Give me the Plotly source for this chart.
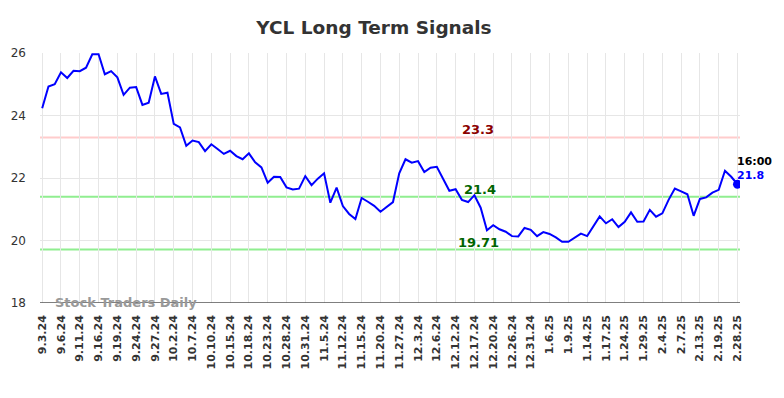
import plotly.graph_objects as go

dates = [
    "9.3.24", "9.4.24", "9.5.24", "9.6.24", "9.9.24", "9.10.24", "9.11.24", "9.12.24", "9.13.24",
    "9.16.24", "9.17.24", "9.18.24", "9.19.24", "9.20.24", "9.23.24", "9.24.24", "9.25.24", "9.26.24",
    "9.27.24", "9.30.24", "10.1.24", "10.2.24", "10.3.24", "10.4.24", "10.7.24", "10.8.24", "10.9.24",
    "10.10.24", "10.11.24", "10.14.24", "10.15.24", "10.16.24", "10.17.24", "10.18.24", "10.21.24", "10.22.24",
    "10.23.24", "10.24.24", "10.25.24", "10.28.24", "10.29.24", "10.30.24", "10.31.24", "11.1.24", "11.4.24",
    "11.5.24", "11.7.24", "11.11.24", "11.12.24", "11.13.24", "11.14.24", "11.15.24", "11.18.24", "11.19.24",
    "11.20.24", "11.21.24", "11.25.24", "11.27.24", "11.29.24", "12.2.24", "12.3.24", "12.4.24", "12.5.24",
    "12.6.24", "12.9.24", "12.11.24", "12.12.24", "12.13.24", "12.16.24", "12.17.24", "12.18.24", "12.19.24",
    "12.20.24", "12.23.24", "12.24.24", "12.26.24", "12.27.24", "12.30.24", "12.31.24", "1.2.25", "1.3.25",
    "1.6.25", "1.7.25", "1.8.25", "1.9.25", "1.10.25", "1.13.25", "1.14.25", "1.15.25", "1.16.25",
    "1.17.25", "1.21.25", "1.23.25", "1.24.25", "1.27.25", "1.28.25", "1.29.25", "1.30.25", "1.31.25",
    "2.4.25", "2.5.25", "2.6.25", "2.7.25", "2.10.25", "2.12.25", "2.13.25", "2.14.25", "2.18.25",
    "2.19.25", "2.21.25", "2.25.25", "2.28.25",
]

prices = [
    24.23, 24.93, 25.00, 25.38, 25.20, 25.43, 25.42, 25.53, 25.96,
    25.96, 25.32, 25.42, 25.22, 24.66, 24.89, 24.91, 24.34, 24.41,
    25.25, 24.69, 24.73, 23.73, 23.62, 23.03, 23.20, 23.15, 22.86,
    23.08, 22.93, 22.77, 22.87, 22.70, 22.60, 22.79, 22.50, 22.34,
    21.85, 22.04, 22.03, 21.70, 21.63, 21.66, 22.06, 21.77, 21.98,
    22.15, 21.21, 21.69, 21.10, 20.85, 20.69, 21.36, 21.24, 21.11,
    20.92, 21.09, 21.23, 22.15, 22.60, 22.49, 22.54, 22.19, 22.33,
    22.36, 21.99, 21.59, 21.64, 21.30, 21.23, 21.45, 21.05, 20.33,
    20.49, 20.36, 20.28, 20.14, 20.13, 20.40, 20.34, 20.14, 20.27,
    20.21, 20.10, 19.96, 19.96, 20.10, 20.22, 20.14, 20.46, 20.77,
    20.55, 20.68, 20.43, 20.60, 20.90, 20.60, 20.61, 20.98, 20.76,
    20.87, 21.30, 21.66, 21.57, 21.48, 20.79, 21.33, 21.38, 21.53,
    21.62, 22.23, 22.04, 21.80,
]

tick_labels = dates[::3]
y_ticks = [18, 20, 22, 24, 26]

resistance = 23.3
support_high = 21.4
support_low = 19.71
last_time = "16:00"

font_family = "DejaVu Sans"

fig = go.Figure()

fig.add_trace(go.Scatter(
    x=dates, y=prices, mode="lines",
    line=dict(color="#0000ff", width=2),
    hoverinfo="skip", showlegend=False,
))

fig.add_trace(go.Scatter(
    x=[dates[-1]], y=[prices[-1]], mode="markers",
    marker=dict(color="#0000ff", size=9),
    hoverinfo="skip", showlegend=False,
))

for level, color in [(resistance, "#ffcccc"), (support_high, "#90ee90"), (support_low, "#90ee90")]:
    fig.add_hline(y=level, line=dict(color=color, width=2), layer="below")

for level, color, xpos in [(resistance, "#8b0000", 0.626), (support_high, "#006400", 0.628),
                           (support_low, "#006400", 0.627)]:
    fig.add_annotation(
        x=xpos, xref="paper", y=level, yref="y", text=str(level),
        showarrow=False, yanchor="bottom", xanchor="center", yshift=-2,
        font=dict(family=font_family, size=13, color=color, weight="bold"),
    )

fig.add_annotation(
    x=dates[-1], y=prices[-1], text=last_time, showarrow=False,
    xanchor="left", yanchor="bottom", yshift=14, xshift=-2,
    font=dict(family=font_family, size=11, color="#000000", weight="bold"),
)
fig.add_annotation(
    x=dates[-1], y=prices[-1], text=str(prices[-1]), showarrow=False,
    xanchor="left", yanchor="bottom", yshift=0, xshift=-2,
    font=dict(family=font_family, size=11, color="#0000ff", weight="bold"),
)

fig.add_annotation(
    x=0.019, xref="paper", y=18, yref="y", text="Stock Traders Daily",
    showarrow=False, xanchor="left", yanchor="middle", yshift=1,
    font=dict(family=font_family, size=13, color="#999999", weight="bold"),
)

fig.update_layout(
    width=784, height=398,
    margin=dict(l=40, r=44, t=53, b=95),
    paper_bgcolor="white", plot_bgcolor="white",
    title=dict(text="YCL Long Term Signals", x=0.477, xanchor="center", y=0.932, yanchor="middle",
               font=dict(family=font_family, size=18.5, color="#333333", weight="bold")),
    font=dict(family=font_family, color="#333333"),
)

fig.update_xaxes(
    type="category", range=[-0.35, len(dates) - 0.6],
    tickmode="array", tickvals=tick_labels, ticktext=tick_labels,
    tickangle=-90, tickfont=dict(family=font_family, size=11, color="#333333", weight="bold"),
    showgrid=True, gridcolor="#e6e6e6", gridwidth=1,
    showline=False, zeroline=False, ticks="", ticklabelstandoff=9,
)

fig.update_yaxes(
    range=[18, 26], tickvals=y_ticks,
    tickfont=dict(family=font_family, size=12, color="#333333"),
    showgrid=True, gridcolor="#e6e6e6", gridwidth=1,
    zeroline=False, showline=False, ticks="", ticklabelstandoff=13,
)

fig.add_hline(y=18, line=dict(color="#555555", width=1.5))

fig.write_html(
    "out.html",
    config={"displayModeBar": False},
    post_script="document.body.style.margin='0';document.body.style.overflow='hidden';",
)
